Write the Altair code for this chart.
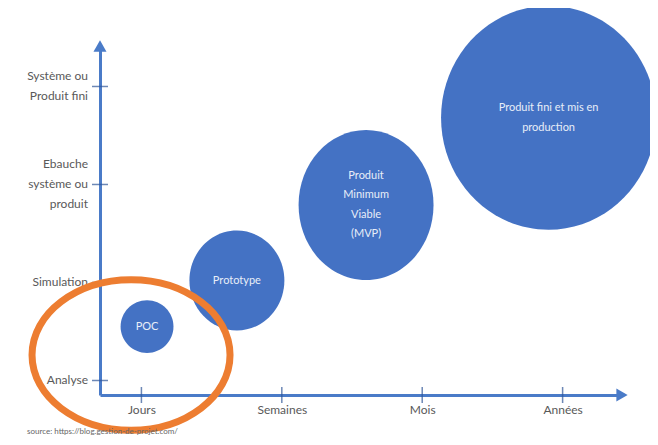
import altair as alt
import pandas as pd

# ---- data ----
x_levels = [1, 2, 3, 4]
x_labels = ["Jours", "Semaines", "Mois", "Années"]
y_levels = [1, 2, 3, 4]
y_labels = ["Analyse", "Simulation", "Ebauche\nsystème ou\nproduit", "Système ou\nProduit fini"]

bubble_names = ["POC", "Prototype", "MVP", "Produit fini"]
bubble_texts = ["POC", "Prototype", "Produit\nMinimum\nViable\n(MVP)", "Produit fini et mis en\nproduction"]
bubble_x = [1.04, 1.68, 2.60, 3.90]
bubble_y = [1.55, 2.02, 2.79, 3.68]
bubble_size = [2.8, 10.0, 22.5, 50.2]

ring_x = [0.926]
ring_y = [1.26]

source_text = ["source: https://blog.gestion-de-projet.com/"]

# ---- scales / styling ----
X_DOM = [0.705, 4.423]
Y_DOM = [0.852, 4.413]
AXIS_BLUE = "#4a7bc8"
BUBBLE_BLUE = "#4472c4"
ORANGE = "#ed7d31"
LABEL_GREY = "#595959"


def ellipse(rx, ry):
    return f"M{-rx},0A{rx},{ry} 0 1,1 {rx},0A{rx},{ry} 0 1,1 {-rx},0Z"


bubble_paths = [ellipse(1.0, 1.0), ellipse(0.95, 1.0), ellipse(0.9, 1.0), ellipse(0.96, 1.0)]

bubbles = pd.DataFrame({"name": bubble_names, "text": bubble_texts, "x": bubble_x,
                        "y": bubble_y, "size": bubble_size})
xt = pd.DataFrame({"x": x_levels})
yt = pd.DataFrame({"y": y_levels, "label": y_labels})
ring = pd.DataFrame({"x": ring_x, "y": ring_y})
src = pd.DataFrame({"text": source_text})

x_expr = ""
for lv, lb in zip(x_levels, x_labels):
    x_expr += f"datum.value == {lv} ? '{lb}' : "
x_expr += "''"

xscale = alt.Scale(domain=X_DOM, nice=False, zero=False)
yscale = alt.Scale(domain=Y_DOM, nice=False, zero=False)

xaxis = alt.Axis(values=x_levels, labelExpr=x_expr, ticks=False, grid=False,
                 domainColor=AXIS_BLUE, domainWidth=3, labelFont="Lato",
                 labelFontSize=12, labelColor=LABEL_GREY, labelPadding=9, title=None)
yaxis = alt.Axis(values=y_levels, labels=False, ticks=False, grid=False,
                 domainColor=AXIS_BLUE, domainWidth=3, title=None)


def X(f):
    return alt.X(f, type="quantitative", scale=xscale, axis=xaxis)


def Y(f):
    return alt.Y(f, type="quantitative", scale=yscale, axis=yaxis)


XMIN = alt.X(datum=X_DOM[0], scale=xscale, axis=xaxis)
XMAX = alt.X(datum=X_DOM[1], scale=xscale, axis=xaxis)
YMIN = alt.Y(datum=Y_DOM[0], scale=yscale, axis=yaxis)
YMAX = alt.Y(datum=Y_DOM[1], scale=yscale, axis=yaxis)

xticks = alt.Chart(xt).mark_tick(orient="vertical", size=16, thickness=1.5,
                                 color="#2f5597").encode(x=X("x"), y=YMIN)
yticks = alt.Chart(yt).mark_tick(orient="horizontal", size=16, thickness=1.5,
                                 color="#2f5597").encode(y=Y("y"), x=XMIN)

LH_AX = 20
ylabels = alt.Chart(yt).mark_text(
    lineBreak="\n", align="right", baseline="middle", dx=-12, font="Lato",
    fontSize=12, lineHeight=LH_AX, color=LABEL_GREY,
    dy=alt.ExprRef(f"-(length(split(datum.label, '\\n')) - 1) * {LH_AX / 2}"),
).encode(x=XMIN, y=Y("y"), text="label:N")

arrow_x = alt.Chart(xt.head(1)).mark_point(shape="triangle-right", filled=True, size=170, opacity=1,
                                           color=AXIS_BLUE).encode(x=XMAX, y=YMIN)
arrow_y = alt.Chart(xt.head(1)).mark_point(shape="triangle-up", filled=True, size=170, opacity=1,
                                           color=AXIS_BLUE).encode(x=XMIN, y=YMAX)

bubble_marks = alt.Chart(bubbles).mark_point(filled=True, opacity=1, color=BUBBLE_BLUE).encode(
    x=X("x"), y=Y("y"),
    shape=alt.Shape("name:N", scale=alt.Scale(domain=bubble_names, range=bubble_paths), legend=None),
    size=alt.Size("size:Q", scale=alt.Scale(type="linear", domain=[0, 50.2], range=[0, 50176], zero=True),
                  legend=None),
)

LH_B = 19.5
bubble_text = alt.Chart(bubbles).mark_text(
    lineBreak="\n", color="#e8eef8", font="Lato", fontSize=11, lineHeight=LH_B,
    baseline="middle", align="center",
    dy=alt.ExprRef(f"-(length(split(datum.text, '\\n')) - 1) * {LH_B / 2}"),
).encode(x=X("x"), y=Y("y"), text="text:N")

ring_mark = alt.Chart(ring).mark_point(shape=ellipse(1.0, 0.76), size=39204, filled=False,
                                       opacity=1, stroke=ORANGE, strokeWidth=7).encode(
    x=X("x"), y=Y("y"))

source = alt.Chart(src).mark_text(align="left", baseline="middle", font="Lato", fontSize=8,
                                  color="#666666").encode(
    x=alt.value(-73), y=alt.value(386), text="text:N")

chart = alt.layer(xticks, yticks, ylabels, arrow_x, arrow_y, bubble_marks, bubble_text,
                  ring_mark, source).properties(
    width=522, height=349,
    autosize=alt.AutoSizeParams(type="none"),
    padding={"left": 92, "top": 38, "right": 28, "bottom": 42},
).configure(background="white", view=alt.ViewConfig(stroke=None))

chart.save("out.html", embed_options={"renderer": "svg", "actions": False})
